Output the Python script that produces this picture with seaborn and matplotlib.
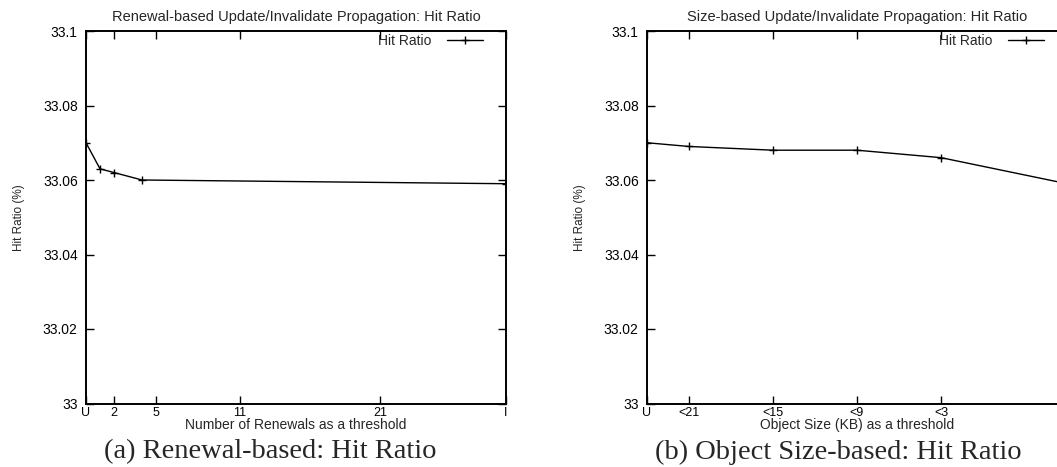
import matplotlib
matplotlib.use('Agg')
import matplotlib.pyplot as plt
import seaborn as sns
import pandas as pd

# values
renewal_x = [0, 1, 2, 4, 30]
renewal_hit = [33.070, 33.063, 33.062, 33.060, 33.059]
renewal_ticks = [0, 2, 5, 11, 21, 30]
renewal_labels = ['U', '2', '5', '11', '21', 'I']

size_x = [0, 3, 9, 15, 21, 30]
size_hit = [33.070, 33.069, 33.068, 33.068, 33.066, 33.059]
size_ticks = [0, 3, 9, 15, 21]
size_labels = ['U', '<21', '<15', '<9', '<3']

y_ticks = [33, 33.02, 33.04, 33.06, 33.08, 33.1]
y_labels = ['33', '33.02', '33.04', '33.06', '33.08', '33.1']

sns.set_style('ticks')
plt.rcParams['font.family'] = ['Liberation Sans', 'DejaVu Sans']

fig = plt.figure(figsize=(10.57, 4.67), dpi=100)
ax1 = fig.add_axes([86 / 1057, 1 - 403.5 / 467, 420 / 1057, 372.5 / 467])
ax2 = fig.add_axes([647 / 1057, 1 - 403.5 / 467, 420 / 1057, 372.5 / 467])

panels = [
    (ax1, renewal_x, renewal_hit, renewal_ticks, renewal_labels,
     'Renewal-based Update/Invalidate Propagation: Hit Ratio',
     'Number of Renewals as a threshold'),
    (ax2, size_x, size_hit, size_ticks, size_labels,
     'Size-based Update/Invalidate Propagation: Hit Ratio',
     'Object Size (KB) as a threshold'),
]

for ax, xs, ys, ticks, labels, title, xlabel in panels:
    df = pd.DataFrame({'x': xs, 'y': ys})
    sns.lineplot(data=df, x='x', y='y', ax=ax, color='black', linewidth=1.0,
                 marker='+', markersize=6, markeredgewidth=1.0,
                 markeredgecolor='black', label='Hit Ratio')
    ax.set_xlim(0, 30)
    ax.set_ylim(33, 33.1)
    ax.set_xticks(ticks)
    ax.set_xticklabels(labels)
    ax.set_yticks(y_ticks)
    ax.set_yticklabels(y_labels)
    ax.tick_params(direction='in', top=True, right=True, length=6, width=1,
                   labelsize=10, pad=6, colors='black')
    ax.tick_params(axis='x', pad=2.5, labelsize=9)
    for sp in ax.spines.values():
        sp.set_linewidth(1.4)
        sp.set_color('black')
    ax.set_title(title, fontsize=10.5, pad=7)
    ax.set_xlabel(xlabel, fontsize=10, labelpad=-1)
    ax.set_ylabel('Hit Ratio (%)', fontsize=8.5, labelpad=13)
    ax.legend(loc='upper right', bbox_to_anchor=(0.945, 0.993), frameon=False,
              markerfirst=False, handlelength=2.6, handletextpad=1.1,
              borderpad=0, borderaxespad=0, fontsize=10)

fig.text(270 / 1057, 1 - 452 / 467, '(a) Renewal-based: Hit Ratio',
         family=['Liberation Serif', 'DejaVu Serif'], fontsize=20.5,
         ha='center', va='center')
fig.text(838 / 1057, 1 - 452 / 467, '(b) Object Size-based: Hit Ratio',
         family=['Liberation Serif', 'DejaVu Serif'], fontsize=20.5,
         ha='center', va='center')

fig.savefig('out.png', dpi=100)
